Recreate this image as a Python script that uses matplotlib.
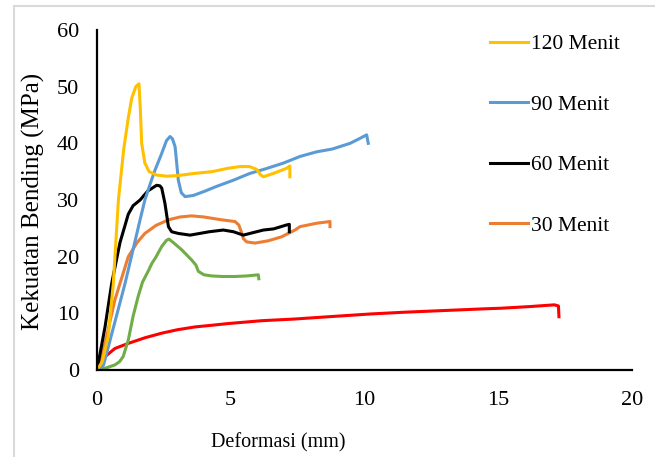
#!/usr/bin/env python3

import matplotlib
matplotlib.use("Agg")
import matplotlib.pyplot as plt
from matplotlib.patches import Rectangle

plt.rcParams["font.family"] = ["Liberation Serif", "DejaVu Serif"]

# Curves (x in mm, y in MPa)
yellow_x = [0, 0.2, 0.42, 0.61, 0.8, 1.0, 1.17, 1.3, 1.45, 1.57, 1.62, 1.67, 1.79, 1.95, 2.23, 2.6,
            3.0, 3.66, 4.3, 4.9, 5.35, 5.7, 5.97, 6.1, 6.22, 6.6, 7.09, 7.21, 7.21]
yellow_y = [0, 1.5, 6.0, 15.3, 30.0, 39.0, 44.5, 48.0, 50.0, 50.5, 46.0, 40.0, 36.5, 35.0, 34.4, 34.2,
            34.3, 34.7, 35.0, 35.6, 35.9, 35.9, 35.4, 34.5, 34.1, 34.7, 35.6, 36.0, 34.1]

blue_x = [0, 0.24, 1.05, 1.61, 1.79, 2.0, 2.17, 2.4, 2.6, 2.73, 2.82, 2.92, 3.04, 3.15, 3.29, 3.6,
          4.0, 4.47, 5.1, 5.72, 6.3, 6.96, 7.6, 8.21, 8.8, 9.46, 9.8, 10.08, 10.14]
blue_y = [0, 0.8, 15.3, 26.5, 30.0, 33.0, 35.3, 38.0, 40.5, 41.2, 40.8, 39.4, 33.5, 31.3, 30.6, 30.8,
          31.5, 32.4, 33.5, 34.7, 35.5, 36.5, 37.7, 38.5, 39.0, 40.0, 40.8, 41.5, 40.0]

black_x = [0, 0.3, 0.55, 0.86, 1.17, 1.35, 1.61, 1.9, 2.23, 2.35, 2.42, 2.54, 2.67, 2.79, 3.04, 3.48,
           4.2, 4.72, 5.1, 5.47, 5.8, 6.22, 6.6, 7.09, 7.19, 7.19]
black_y = [0, 7.6, 15.3, 22.5, 27.5, 29.0, 30.0, 31.6, 32.6, 32.5, 32.1, 29.4, 25.3, 24.4, 24.1, 23.8,
           24.4, 24.7, 24.4, 23.8, 24.2, 24.7, 24.9, 25.6, 25.7, 24.4]

orange_x = [0, 0.3, 0.67, 1.17, 1.5, 1.79, 2.2, 2.67, 3.1, 3.54, 4.0, 4.66, 5.16, 5.3, 5.4, 5.47,
            5.6, 5.91, 6.4, 6.9, 7.4, 7.59, 8.21, 8.71, 8.71]
orange_y = [0, 4.7, 12.4, 20.0, 22.5, 24.1, 25.5, 26.5, 27.0, 27.2, 27.0, 26.5, 26.2, 25.6, 24.3, 23.2,
            22.6, 22.4, 22.8, 23.5, 24.7, 25.3, 25.9, 26.2, 25.3]

green_x = [0, 0.3, 0.67, 0.85, 0.98, 1.17, 1.35, 1.54, 1.7, 1.92, 2.05, 2.2, 2.42, 2.6, 2.69, 2.9,
           3.17, 3.54, 3.7, 3.79, 4.0, 4.29, 4.7, 5.16, 5.6, 6.03, 6.05]
green_y = [0, 0.3, 0.9, 1.5, 2.4, 5.3, 9.5, 13.0, 15.5, 17.5, 18.8, 19.9, 21.8, 22.9, 23.1, 22.3,
           21.2, 19.4, 18.5, 17.4, 16.8, 16.6, 16.5, 16.5, 16.6, 16.8, 16.1]

red_x = [0, 0.05, 0.15, 0.3, 0.67, 1.17, 1.8, 2.42, 3.0, 3.66, 4.3, 4.91, 6.16, 7.4, 8.65, 10.27,
         11.5, 13.0, 14.5, 15.1, 16.2, 17.1, 17.25, 17.27]
red_y = [0, 1.0, 1.8, 2.35, 3.8, 4.7, 5.7, 6.5, 7.1, 7.6, 7.9, 8.2, 8.7, 9.0, 9.4, 9.9,
         10.2, 10.5, 10.8, 10.9, 11.2, 11.5, 11.3, 9.4]

x_ticks = [0, 5, 10, 15, 20]
y_ticks = [0, 10, 20, 30, 40, 50, 60]

fig = plt.figure(figsize=(6.55, 4.57), dpi=100)
ax = fig.add_axes([97 / 655, 1 - 370 / 457, 535 / 655, 340 / 457])

# light gray frame around the chart
fig.patches.append(Rectangle((14 / 655, -0.1), 1.2, 1.1 - 6 / 457, transform=fig.transFigure,
                             fill=False, edgecolor="#d9d9d9", linewidth=1.5))

lw = 2.2
ax.plot(red_x, red_y, color="#ff0000", lw=lw)
ax.plot(green_x, green_y, color="#70ad47", lw=lw)
ax.plot(orange_x, orange_y, color="#ed7d31", lw=lw, label="30 Menit")
ax.plot(black_x, black_y, color="#000000", lw=lw, label="60 Menit")
ax.plot(blue_x, blue_y, color="#5b9bd5", lw=lw, label="90 Menit")
ax.plot(yellow_x, yellow_y, color="#ffc000", lw=lw, label="120 Menit")

ax.set_xlim(0, 20)
ax.set_ylim(0, 60)
ax.set_xticks(x_ticks)
ax.set_yticks(y_ticks)
ax.tick_params(axis="both", length=0, labelsize=16)
ax.tick_params(axis="x", pad=15)
ax.tick_params(axis="y", pad=13)

for s in ["top", "right"]:
    ax.spines[s].set_visible(False)
for s in ["left", "bottom"]:
    ax.spines[s].set_linewidth(1.6)

ax.set_xlabel("Deformasi (mm)", fontsize=14.5, va="center")
ax.xaxis.set_label_coords(181 / 535, -73 / 340)
ax.set_ylabel("Kekuatan Bending (MPa)", fontsize=18, va="center")
ax.yaxis.set_label_coords(-64 / 535, 0.497)

handles, labels = ax.get_legend_handles_labels()
ax.legend(handles[::-1], labels[::-1], loc="upper left",
          bbox_to_anchor=(490 / 655, 1 - 34 / 457), bbox_transform=fig.transFigure,
          frameon=False, fontsize=15.5, borderpad=0, borderaxespad=0,
          handlelength=1.75, handletextpad=0.15, labelspacing=1.88)

fig.savefig("out.png", dpi=100)
